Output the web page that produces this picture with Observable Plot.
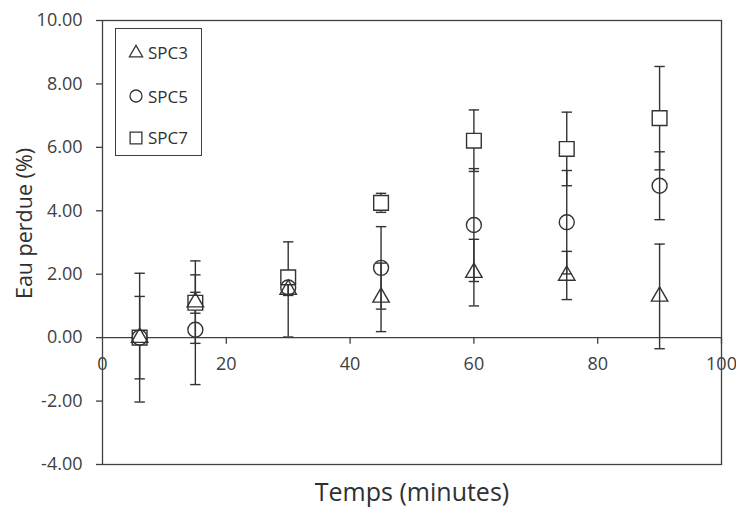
<!DOCTYPE html>
<html>
<head>
<meta charset="utf-8">
<script src="https://cdn.jsdelivr.net/npm/d3@7"></script>
<script src="https://cdn.jsdelivr.net/npm/@observablehq/plot@0.6"></script>
<style>
  body { margin: 0; background: white; font-family: "Open Sans", sans-serif; }
  #wrap { position: relative; width: 736px; height: 513px; }
  #legend { position: absolute; left: 115px; top: 28px; width: 87px; height: 128px;
            border: 1.3px solid #404040; background: white; box-sizing: border-box; }
  .lg-row { position: absolute; left: 0; height: 20px; display: flex; align-items: center; }
  .lg-row svg { display: block; }
  .lg-row span { font-size: 17px; color: #303030; margin-left: 3px; }
</style>
</head>
<body>
<div id="wrap"><div id="legend"></div></div>
<script>
// ---- data ----
const time = [6, 15, 30, 45, 60, 75, 90];
const seriesNames = ["SPC3", "SPC5", "SPC7"];
const spc3 = [0, 1.12, 1.52, 1.27, 2.05, 1.96, 1.30];
const spc3Err = [2.03, 1.30, 1.50, 1.08, 1.05, 0.76, 1.65];
const spc5 = [0, 0.25, 1.58, 2.20, 3.55, 3.64, 4.79];
const spc5Err = [1.30, 1.73, 0.25, 1.30, 1.78, 1.63, 1.07];
const spc7 = [0, 1.10, 1.90, 4.25, 6.21, 5.95, 6.92];
const spc7Err = [0.15, 0.33, 0.12, 0.30, 0.97, 1.16, 1.63];
const xTicks = [0, 20, 40, 60, 80, 100];
const yTicks = [-4, -2, 0, 2, 4, 6, 8, 10];
const xLabel = "Temps (minutes)";
const yLabel = "Eau perdue (%)";

const rowsOf = (vals, errs) => time.map((t, i) => ({t, v: vals[i], e: errs[i]}));
const s3 = rowsOf(spc3, spc3Err);
const s5 = rowsOf(spc5, spc5Err);
const s7 = rowsOf(spc7, spc7Err);
const all = [...s3, ...s5, ...s7];

const ink = "#333333";
const capSym = {draw(ctx, size) { const r = Math.sqrt(size / Math.PI); ctx.moveTo(-r, 0); ctx.lineTo(r, 0); }};
const tickDown = {draw(ctx, size) { const r = Math.sqrt(size / Math.PI); ctx.moveTo(0, 0); ctx.lineTo(0, r); }};

const markerStyle = [
  {symbol: "triangle", r: 6.1},
  {symbol: "circle", r: 7.5},
  {symbol: "square", r: 8.3}
];

const chart = Plot.plot({
  width: 736, height: 513,
  marginLeft: 102, marginRight: 15, marginTop: 20, marginBottom: 49,
  x: {domain: [0, 100], axis: null},
  y: {domain: [-4, 10], axis: null},
  style: {fontFamily: "Open Sans", color: "#404040", background: "white", overflow: "visible"},
  marks: [
    Plot.frame({stroke: "#404040", strokeWidth: 1.3}),
    Plot.ruleY([0], {stroke: "#404040", strokeWidth: 1.3}),
    Plot.dot(xTicks.slice(1), {x: d => d, y: 0, symbol: tickDown, r: 6, stroke: "#404040", strokeWidth: 1.3}),
    Plot.text(xTicks, {x: d => d, y: 0, dy: 27, text: d => String(d), fontSize: 18, fill: "#404040"}),
    Plot.axisY({ticks: yTicks, tickFormat: d => d.toFixed(2), tickSize: 6, tickPadding: 14, fontSize: 18, label: null, strokeWidth: 1.3}),
    Plot.text([yLabel], {frameAnchor: "left", textAnchor: "middle", rotate: -90, dx: -77, dy: -19, fontSize: 21.5, fill: "#303030"}),
    Plot.text([xLabel], {frameAnchor: "bottom", textAnchor: "middle", dy: 36, fontSize: 25, fill: "#303030"}),
    // error bars
    Plot.ruleX(all, {x: "t", y1: d => d.v - d.e, y2: d => d.v + d.e, stroke: ink, strokeWidth: 1.4}),
    Plot.dot(all, {x: "t", y: d => d.v + d.e, symbol: capSym, r: 5.2, stroke: ink, strokeWidth: 1.4}),
    Plot.dot(all, {x: "t", y: d => d.v - d.e, symbol: capSym, r: 5.2, stroke: ink, strokeWidth: 1.4}),
    // markers (squares underneath so overlapping markers stay visible)
    Plot.dot(s7, {x: "t", y: "v", ...markerStyle[2], fill: "white", stroke: ink, strokeWidth: 1.4}),
    Plot.dot(s5, {x: "t", y: "v", ...markerStyle[1], fill: "none", stroke: ink, strokeWidth: 1.4}),
    Plot.dot(s3, {x: "t", y: "v", ...markerStyle[0], fill: "none", stroke: ink, strokeWidth: 1.4})
  ]
});
document.getElementById("wrap").insertBefore(chart, document.getElementById("legend"));

// legend
const legend = d3.select("#legend");
const rowTops = [13.5, 57, 98.5];
const symTypes = [d3.symbolTriangle, d3.symbolCircle, d3.symbolSquare];
seriesNames.forEach((name, i) => {
  const row = legend.append("div").attr("class", "lg-row").style("top", rowTops[i] + "px").style("left", "11px");
  const svg = row.append("svg").attr("width", 18).attr("height", 20);
  const r = markerStyle[i].r * 0.8;
  svg.append("path")
    .attr("transform", "translate(9,10)")
    .attr("d", d3.symbol(symTypes[i], r * r * Math.PI)())
    .attr("fill", "white").attr("stroke", ink).attr("stroke-width", 1.3);
  row.append("span").text(name);
});
</script>
</body>
</html>
